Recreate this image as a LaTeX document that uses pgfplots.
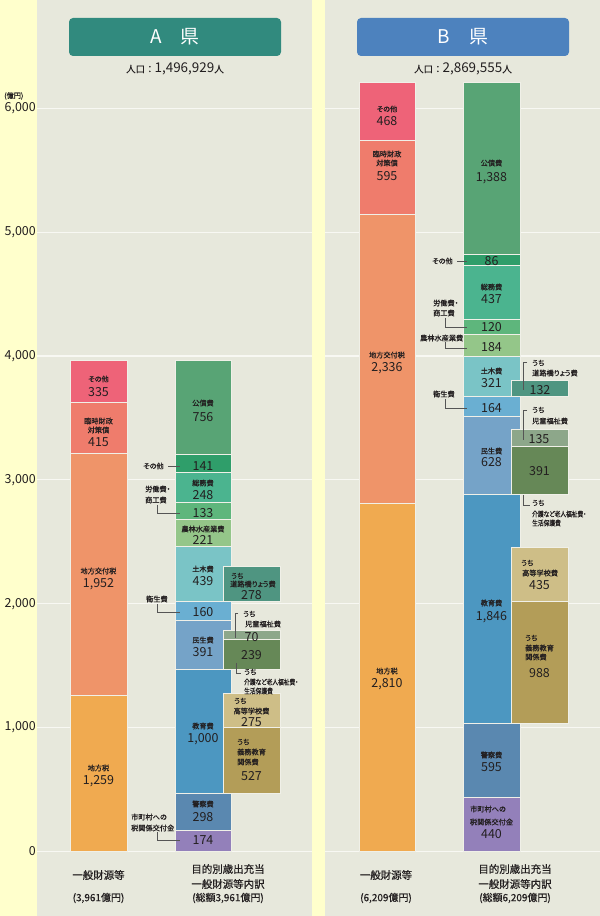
\documentclass[border=0pt]{standalone}
\usepackage{fontspec}
\usepackage{graphicx}
\setmainfont{Noto Sans CJK JP}
\newfontfamily\jpp[RawFeature=+palt, FakeBold=0.7]{Noto Sans CJK JP}
\newfontfamily\jpb[FakeBold=0.5]{Noto Sans CJK JP}
\usepackage{pgfplots}
\pgfplotsset{compat=1.18}
\definecolor{bgyellow}{HTML}{FFFFCC}
\definecolor{panel}{HTML}{E7E8DC}
\definecolor{gridc}{HTML}{F8F8F3}
\definecolor{barline}{HTML}{F0F0E8}
\definecolor{txt}{HTML}{231F20}
\definecolor{leader}{HTML}{555555}
\definecolor{titleA}{HTML}{318A7E}
\definecolor{titleB}{HTML}{4D82BE}
\definecolor{cOther}{HTML}{EE6378}
\definecolor{cRinji}{HTML}{EF7C6C}
\definecolor{cKofu}{HTML}{EF9469}
\definecolor{cChihou}{HTML}{F0AA50}
\definecolor{cKosai}{HTML}{58A475}
\definecolor{cSonota}{HTML}{2F9E6A}
\definecolor{cSomu}{HTML}{4BB48F}
\definecolor{cRodo}{HTML}{5EB67C}
\definecolor{cNorin}{HTML}{94C689}
\definecolor{cDoboku}{HTML}{7AC4C6}
\definecolor{cDoro}{HTML}{4F9581}
\definecolor{cEisei}{HTML}{6AAFD2}
\definecolor{cMinsei}{HTML}{75A3C8}
\definecolor{cJido}{HTML}{8DA78A}
\definecolor{cKaigo}{HTML}{668857}
\definecolor{cKyoiku}{HTML}{4C97C1}
\definecolor{cKoto}{HTML}{CEBE87}
\definecolor{cGimu}{HTML}{B39D58}
\definecolor{cKeisatsu}{HTML}{5A88B0}
\definecolor{cShicho}{HTML}{9380BA}
\pgfplotsset{
  barax/.style={at={(0,0)}, anchor=south west, scale only axis,
    width=600bp, height=916bp, xmin=0, xmax=600, ymin=-520.7, ymax=6874.2,
    hide axis, clip=false, ybar stacked, bar width=#1},
  seg/.style={fill=#1, draw=barline, line width=0.8bp},
  gap/.style={fill=none, draw=none},
}
\tikzset{
  lbl/.style={font=\jpp\fontsize{7.2}{8}\selectfont, text=txt, inner sep=0pt},
  num/.style={font=\fontsize{12.5}{13}\selectfont, text=txt, inner sep=0pt},
  bot/.style={font=\jpb\fontsize{10.5}{11}\selectfont, text=txt, inner sep=0pt},
  ld/.style={draw=leader, line width=0.6bp},
}
\newcommand{\narrow}[1]{\scalebox{0.8}[1]{#1}}
\begin{document}
\begin{tikzpicture}[x=1bp,y=1bp]
\path[use as bounding box] (0,0) rectangle (600,916);
\fill[bgyellow] (0,0) rectangle (600,916);
\fill[panel] (37,0) rectangle (311.5,916);
\fill[panel] (324.5,0) rectangle (600,916);

% background axis: grid and y ticks
\begin{axis}[at={(37,0)}, anchor=south west, scale only axis,
  width=563bp, height=916bp, xmin=37, xmax=600, ymin=-520.7, ymax=6874.2,
  axis line style={draw=none}, xtick=\empty, ytick={0,1000,...,6000},
  ymajorgrids, major grid style={draw=gridc, line width=1.2bp},
  major tick length=0pt,
  yticklabel style={font=\fontsize{12.5}{13}\selectfont, text=txt, inner sep=1bp},
  /pgf/number format/1000 sep={,},
  /pgf/number format/assume math mode=true]
\addplot[draw=none] coordinates {(100,0)};
\end{axis}
\fill[bgyellow] (311.5,0) rectangle (324.5,916);

% ---------- A: left bar ----------
\begin{axis}[barax=57]
\addplot[seg=cChihou] coordinates {(98.5,1259)};
\addplot[seg=cKofu] coordinates {(98.5,1952)};
\addplot[seg=cRinji] coordinates {(98.5,415)};
\addplot[seg=cOther] coordinates {(98.5,335)};
\end{axis}
% ---------- A: middle bar ----------
\begin{axis}[barax=56]
\addplot[seg=cShicho] coordinates {(203,174)};
\addplot[seg=cKeisatsu] coordinates {(203,298)};
\addplot[seg=cKyoiku] coordinates {(203,1000)};
\addplot[seg=cMinsei] coordinates {(203,391)};
\addplot[seg=cEisei] coordinates {(203,160)};
\addplot[seg=cDoboku] coordinates {(203,439)};
\addplot[seg=cNorin] coordinates {(203,221)};
\addplot[seg=cRodo] coordinates {(203,133)};
\addplot[seg=cSomu] coordinates {(203,248)};
\addplot[seg=cSonota] coordinates {(203,141)};
\addplot[seg=cKosai] coordinates {(203,756)};
\end{axis}
% ---------- A: sub bars ----------
\begin{axis}[barax=57]
\addplot[gap] coordinates {(251.5,472)};
\addplot[seg=cGimu] coordinates {(251.5,527)};
\addplot[seg=cKoto] coordinates {(251.5,275)};
\addplot[gap] coordinates {(251.5,198)};
\addplot[seg=cKaigo] coordinates {(251.5,239)};
\addplot[seg=cJido] coordinates {(251.5,70)};
\addplot[gap] coordinates {(251.5,242)};
\addplot[seg=cDoro] coordinates {(251.5,278)};
\end{axis}
% ---------- B: left bar ----------
\begin{axis}[barax=56]
\addplot[seg=cChihou] coordinates {(387,2810)};
\addplot[seg=cKofu] coordinates {(387,2336)};
\addplot[seg=cRinji] coordinates {(387,595)};
\addplot[seg=cOther] coordinates {(387,468)};
\end{axis}
% ---------- B: middle bar ----------
\begin{axis}[barax=57]
\addplot[seg=cShicho] coordinates {(491.5,440)};
\addplot[seg=cKeisatsu] coordinates {(491.5,595)};
\addplot[seg=cKyoiku] coordinates {(491.5,1846)};
\addplot[seg=cMinsei] coordinates {(491.5,628)};
\addplot[seg=cEisei] coordinates {(491.5,164)};
\addplot[seg=cDoboku] coordinates {(491.5,321)};
\addplot[seg=cNorin] coordinates {(491.5,184)};
\addplot[seg=cRodo] coordinates {(491.5,120)};
\addplot[seg=cSomu] coordinates {(491.5,437)};
\addplot[seg=cSonota] coordinates {(491.5,86)};
\addplot[seg=cKosai] coordinates {(491.5,1388)};
\end{axis}
% ---------- B: sub bars ----------
\begin{axis}[barax=57]
\addplot[gap] coordinates {(539.5,1035)};
\addplot[seg=cGimu] coordinates {(539.5,988)};
\addplot[seg=cKoto] coordinates {(539.5,435)};
\addplot[gap] coordinates {(539.5,423)};
\addplot[seg=cKaigo] coordinates {(539.5,391)};
\addplot[seg=cJido] coordinates {(539.5,135)};
\addplot[gap] coordinates {(539.5,266)};
\addplot[seg=cDoro] coordinates {(539.5,132)};
\end{axis}

% ---------- labels (pixel coordinates, y downward) ----------
\begin{scope}[shift={(0,916)}, yscale=-1]
% titles
\fill[titleA, rounded corners=4bp] (69,18) rectangle (281,56);
\fill[titleB, rounded corners=4bp] (357,18) rectangle (569,56);
\node[font=\fontsize{19}{20}\selectfont, text=white] at (175,37) {A\hspace{1em}県};
\node[font=\fontsize{19}{20}\selectfont, text=white] at (463,37) {B\hspace{1em}県};
\node[text=txt, inner sep=0pt] at (175,69) {{\jpb\fontsize{9.5}{10}\selectfont 人口：}{\fontsize{13.5}{14}\selectfont 1,496,929}{\jpb\fontsize{9.5}{10}\selectfont 人}};
\node[text=txt, inner sep=0pt] at (463,69) {{\jpb\fontsize{9.5}{10}\selectfont 人口：}{\fontsize{13.5}{14}\selectfont 2,869,555}{\jpb\fontsize{9.5}{10}\selectfont 人}};
\node[lbl, anchor=west] at (4,96) {(億円)};

% A left
\node[lbl] at (98.5,379) {その他};
\node[num] at (98.5,392) {335};
\node[lbl] at (98.5,421) {臨時財政};
\node[lbl] at (98.5,430) {対策債};
\node[num] at (98.5,442) {415};
\node[lbl] at (98.5,571) {地方交付税};
\node[num] at (98.5,584) {1,952};
\node[lbl] at (98.5,768) {地方税};
\node[num] at (98.5,781) {1,259};

% A middle
\node[lbl] at (203,403) {公債費};
\node[num] at (203,417) {756};
\node[num] at (203,466) {141};
\node[lbl, anchor=west] at (143,466) {その他};
\draw[ld] (168,466) -- (180,466);
\node[lbl] at (203,483) {総務費};
\node[num] at (203,495) {248};
\node[lbl, anchor=west] at (145,489) {労働費・};
\node[lbl, anchor=west] at (145,500) {商工費};
\draw[ld] (157,505) -- (157,513) -- (180,513);
\node[num] at (203,513) {133};
\node[lbl] at (203,529) {農林水産業費};
\node[num] at (203,540) {221};
\node[lbl] at (203,569) {土木費};
\node[num] at (203,581) {439};
\node[lbl, anchor=west] at (146,599) {衛生費};
\draw[ld] (157,604) -- (157,612) -- (180,612);
\node[num] at (203,612) {160};
\node[lbl] at (203,640) {民生費};
\node[num] at (203,652) {391};
\node[lbl] at (203,726) {教育費};
\node[num] at (203,739) {1,000};
\node[lbl] at (203,804) {警察費};
\node[num] at (203,817) {298};
\node[lbl, anchor=west] at (131,817) {市町村への};
\node[lbl, anchor=west] at (131,828) {税関係交付金};
\draw[ld] (157,832) -- (157,840) -- (180,840);
\node[num] at (203,840) {174};

% A sub bars
\node[lbl, anchor=west] at (231,576) {うち};
\node[lbl] at (253,584) {道路橋りょう費};
\node[num] at (251.5,595) {278};
\draw[ld] (238,613) -- (235,613) -- (235,638);
\node[lbl, anchor=west] at (243,614) {うち};
\node[lbl, anchor=west] at (245,624) {児童福祉費};
\node[num] at (251.5,637) {70};
\node[num] at (251.5,655) {239};
\draw[ld] (236,663) -- (236,673) -- (241,673);
\node[lbl, anchor=west] at (244,672) {うち};
\node[lbl, anchor=west] at (244,682) {\narrow{介護など老人福祉費・}};
\node[lbl, anchor=west] at (244,691) {\narrow{生活保護費}};
\node[lbl, anchor=west] at (234,701) {うち};
\node[lbl] at (251.5,711) {高等学校費};
\node[num] at (251.5,722) {275};
\node[lbl, anchor=west] at (237,742) {うち};
\node[lbl, anchor=west] at (237,752) {義務教育};
\node[lbl, anchor=west] at (237,762) {関係費};
\node[num] at (251.5,776) {527};

% B left
\node[lbl] at (387,109) {その他};
\node[num] at (387,121) {468};
\node[lbl] at (387,154) {臨時財政};
\node[lbl] at (387,163) {対策債};
\node[num] at (387,176) {595};
\node[lbl] at (387,355) {地方交付税};
\node[num] at (387,368) {2,336};
\node[lbl] at (387,671) {地方税};
\node[num] at (387,684) {2,810};

% B middle
\node[lbl] at (491.5,163) {公債費};
\node[num] at (491.5,178) {1,388};
\node[num] at (491.5,261) {86};
\node[lbl, anchor=west] at (432,261) {その他};
\draw[ld] (457,261) -- (467,261);
\node[lbl] at (491.5,287) {総務費};
\node[num] at (491.5,299) {437};
\node[lbl, anchor=west] at (433,303) {労働費・};
\node[lbl, anchor=west] at (433,313) {商工費};
\draw[ld] (445,318) -- (445,327) -- (467,327);
\node[num] at (491.5,327) {120};
\node[lbl, anchor=west] at (420,338) {農林水産業費};
\draw[ld] (445,342) -- (445,348) -- (467,348);
\node[num] at (491.5,347) {184};
\node[lbl] at (491.5,371) {土木費};
\node[num] at (491.5,383) {321};
\node[lbl, anchor=west] at (433,394) {衛生費};
\draw[ld] (445,399) -- (445,408) -- (467,408);
\node[num] at (491.5,408) {164};
\node[lbl] at (491.5,451) {民生費};
\node[num] at (491.5,462) {628};
\node[lbl] at (491.5,603) {教育費};
\node[num] at (491.5,617) {1,846};
\node[lbl] at (491.5,755) {警察費};
\node[num] at (491.5,767) {595};
\node[lbl, anchor=west] at (470,809) {市町村への};
\node[lbl] at (491.5,822) {税関係交付金};
\node[num] at (491.5,834) {440};

% B sub bars
\draw[ld] (527,362) -- (523,362) -- (523,390);
\node[lbl, anchor=west] at (532,363) {うち};
\node[lbl, anchor=west] at (532,373) {道路橋りょう費};
\node[num] at (540,390) {132};
\draw[ld] (527,410) -- (523,410) -- (523,440);
\node[lbl, anchor=west] at (532,410) {うち};
\node[lbl, anchor=west] at (532,421) {児童福祉費};
\node[num] at (539,439) {135};
\node[num] at (539.5,471) {391};
\draw[ld] (523,495) -- (523,505) -- (530,505);
\node[lbl, anchor=west] at (532,503) {うち};
\node[lbl, anchor=west] at (532,514) {\narrow{介護など老人福祉費・}};
\node[lbl, anchor=west] at (532,523) {\narrow{生活保護費}};
\node[lbl, anchor=west] at (521,563) {うち};
\node[lbl, anchor=west] at (522,573) {高等学校費};
\node[num] at (539.5,585) {435};
\node[lbl, anchor=west] at (525,638) {うち};
\node[lbl, anchor=west] at (525,648) {義務教育};
\node[lbl, anchor=west] at (525,657) {関係費};
\node[num] at (539.5,673) {988};

% bottom labels
\node[bot] at (98.5,875) {一般財源等};
\node[bot, font=\jpb\fontsize{10}{11}\selectfont] at (98.5,898) {(3,961億円)};
\node[bot] at (228,869) {目的別歳出充当};
\node[bot] at (228,884) {一般財源等内訳};
\node[bot, font=\jpb\fontsize{10}{11}\selectfont] at (228,898) {(総額3,961億円)};
\node[bot] at (386,875) {一般財源等};
\node[bot, font=\jpb\fontsize{10}{11}\selectfont] at (386,898) {(6,209億円)};
\node[bot] at (515,869) {目的別歳出充当};
\node[bot] at (515,884) {一般財源等内訳};
\node[bot, font=\jpb\fontsize{10}{11}\selectfont] at (515,898) {(総額6,209億円)};
\end{scope}
\end{tikzpicture}
\end{document}
